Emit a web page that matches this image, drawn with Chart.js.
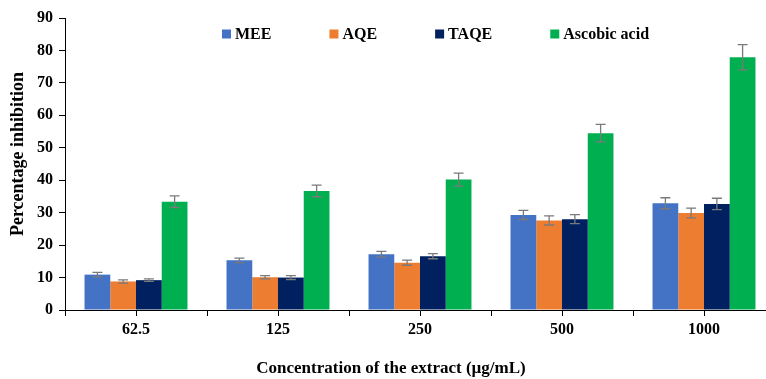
<!DOCTYPE html>
<html>
<head>
<meta charset="utf-8">
<script src="https://cdn.jsdelivr.net/npm/chart.js@4/dist/chart.umd.min.js"></script>
<style>
  html, body { margin: 0; padding: 0; overflow: hidden; background: #fff; }
  canvas { display: block; }
</style>
</head>
<body>
<canvas id="chart" width="776" height="379"></canvas>
<script>
const concentrations = ['62.5', '125', '250', '500', '1000'];

const meeValues = [10.9, 15.3, 17.2, 29.3, 32.9];
const meeErrors = [0.7, 0.7, 0.9, 1.4, 1.7];
const aqeValues = [8.8, 10.1, 14.6, 27.6, 29.9];
const aqeErrors = [0.5, 0.5, 0.8, 1.4, 1.5];
const taqeValues = [9.2, 10.0, 16.6, 28.0, 32.7];
const taqeErrors = [0.4, 0.6, 0.8, 1.4, 1.75];
const ascorbicValues = [33.4, 36.7, 40.2, 54.5, 77.9];
const ascorbicErrors = [1.8, 1.8, 2.0, 2.7, 3.9];

const yTicks = [0, 10, 20, 30, 40, 50, 60, 70, 80, 90];

const xTitle = 'Concentration of the extract (µg/mL)';
const yTitle = 'Percentage inhibition';

const FONT = '"Liberation Serif", "Times New Roman", serif';

// error bars drawn from each bar's position and the y scale
const errorBars = {
    id: 'errorBars',
    afterDatasetsDraw(chart) {
        const ctx = chart.ctx;
        const y = chart.scales.y;
        ctx.save();
        ctx.strokeStyle = '#7a7a7a';
        ctx.lineWidth = 1.3;
        chart.data.datasets.forEach((ds, i) => {
            const meta = chart.getDatasetMeta(i);
            meta.data.forEach((bar, j) => {
                const v = ds.data[j];
                const e = ds.errors[j];
                const top = y.getPixelForValue(v + e);
                const bottom = y.getPixelForValue(v - e);
                ctx.beginPath();
                ctx.moveTo(bar.x, top);
                ctx.lineTo(bar.x, bottom);
                ctx.moveTo(bar.x - 5, top);
                ctx.lineTo(bar.x + 5, top);
                ctx.moveTo(bar.x - 5, bottom);
                ctx.lineTo(bar.x + 5, bottom);
                ctx.stroke();
            });
        });
        ctx.restore();
    }
};

// legend sits inside the plot area, so draw it by hand
const overlayLegend = {
    id: 'overlayLegend',
    afterDraw(chart) {
        const ctx = chart.ctx;
        ctx.save();
        ctx.font = 'bold 16px ' + FONT;
        ctx.textBaseline = 'middle';
        let x = 222;
        const yMid = 34;
        chart.data.datasets.forEach((ds) => {
            ctx.fillStyle = ds.backgroundColor;
            ctx.fillRect(x, yMid - 4.5, 9, 9);
            ctx.fillStyle = '#000';
            ctx.fillText(ds.label, x + 13, yMid + 1);
            x += 13 + ctx.measureText(ds.label).width + 58;
        });
        ctx.restore();
    }
};

// axis titles are not centred on the plot area in the original
const axisTitles = {
    id: 'axisTitles',
    afterDraw(chart) {
        const ctx = chart.ctx;
        ctx.save();
        ctx.fillStyle = '#000';
        ctx.textAlign = 'center';
        ctx.textBaseline = 'middle';
        ctx.font = 'bold 17px ' + FONT;
        ctx.fillText(xTitle, 391, 369);
        ctx.translate(18, 154);
        ctx.rotate(-Math.PI / 2);
        ctx.font = 'bold 18px ' + FONT;
        ctx.fillText(yTitle, 0, 0);
        ctx.restore();
    }
};

new Chart(document.getElementById('chart'), {
    type: 'bar',
    data: {
        labels: concentrations,
        datasets: [
            { label: 'MEE', data: meeValues, errors: meeErrors, backgroundColor: '#4472C4' },
            { label: 'AQE', data: aqeValues, errors: aqeErrors, backgroundColor: '#ED7D31' },
            { label: 'TAQE', data: taqeValues, errors: taqeErrors, backgroundColor: '#002060' },
            { label: 'Ascobic acid', data: ascorbicValues, errors: ascorbicErrors, backgroundColor: '#00B050' },
        ],
    },
    options: {
        responsive: false,
        animation: false,
        categoryPercentage: 0.725,
        barPercentage: 1.0,
        layout: { padding: { top: 18, right: 1, left: 0, bottom: 0 } },
        plugins: {
            legend: { display: false },
            tooltip: { enabled: false },
        },
        scales: {
            xb: {
                type: 'category',
                position: 'bottom',
                weight: 0,
                offset: true,
                grid: { display: true, offset: true, drawOnChartArea: false, drawTicks: true, tickLength: 6, color: '#000' },
                border: { display: false },
                ticks: { display: false },
                afterFit: (scale) => { scale.height = 0; },
            },
            x: {
                position: 'bottom',
                weight: 1,
                offset: true,
                grid: { display: true, offset: false, drawOnChartArea: false, drawTicks: true, tickLength: 6, color: '#000' },
                border: { display: true, color: '#000', width: 1 },
                ticks: { color: '#000', padding: 4, font: { family: FONT, size: 16, weight: 'bold' } },
                afterFit: (scale) => { scale.height = 69; },
            },
            y: {
                min: 0,
                max: 90,
                afterBuildTicks: (scale) => { scale.ticks = yTicks.map(v => ({ value: v })); },
                grid: { display: true, drawOnChartArea: false, drawTicks: true, tickLength: 6, color: '#000' },
                border: { display: true, color: '#000', width: 1 },
                ticks: { color: '#000', padding: 6, font: { family: FONT, size: 16, weight: 'bold' } },
                afterFit: (scale) => { scale.width = 65; },
            },
        },
    },
    plugins: [errorBars, overlayLegend, axisTitles],
});
</script>
</body>
</html>
